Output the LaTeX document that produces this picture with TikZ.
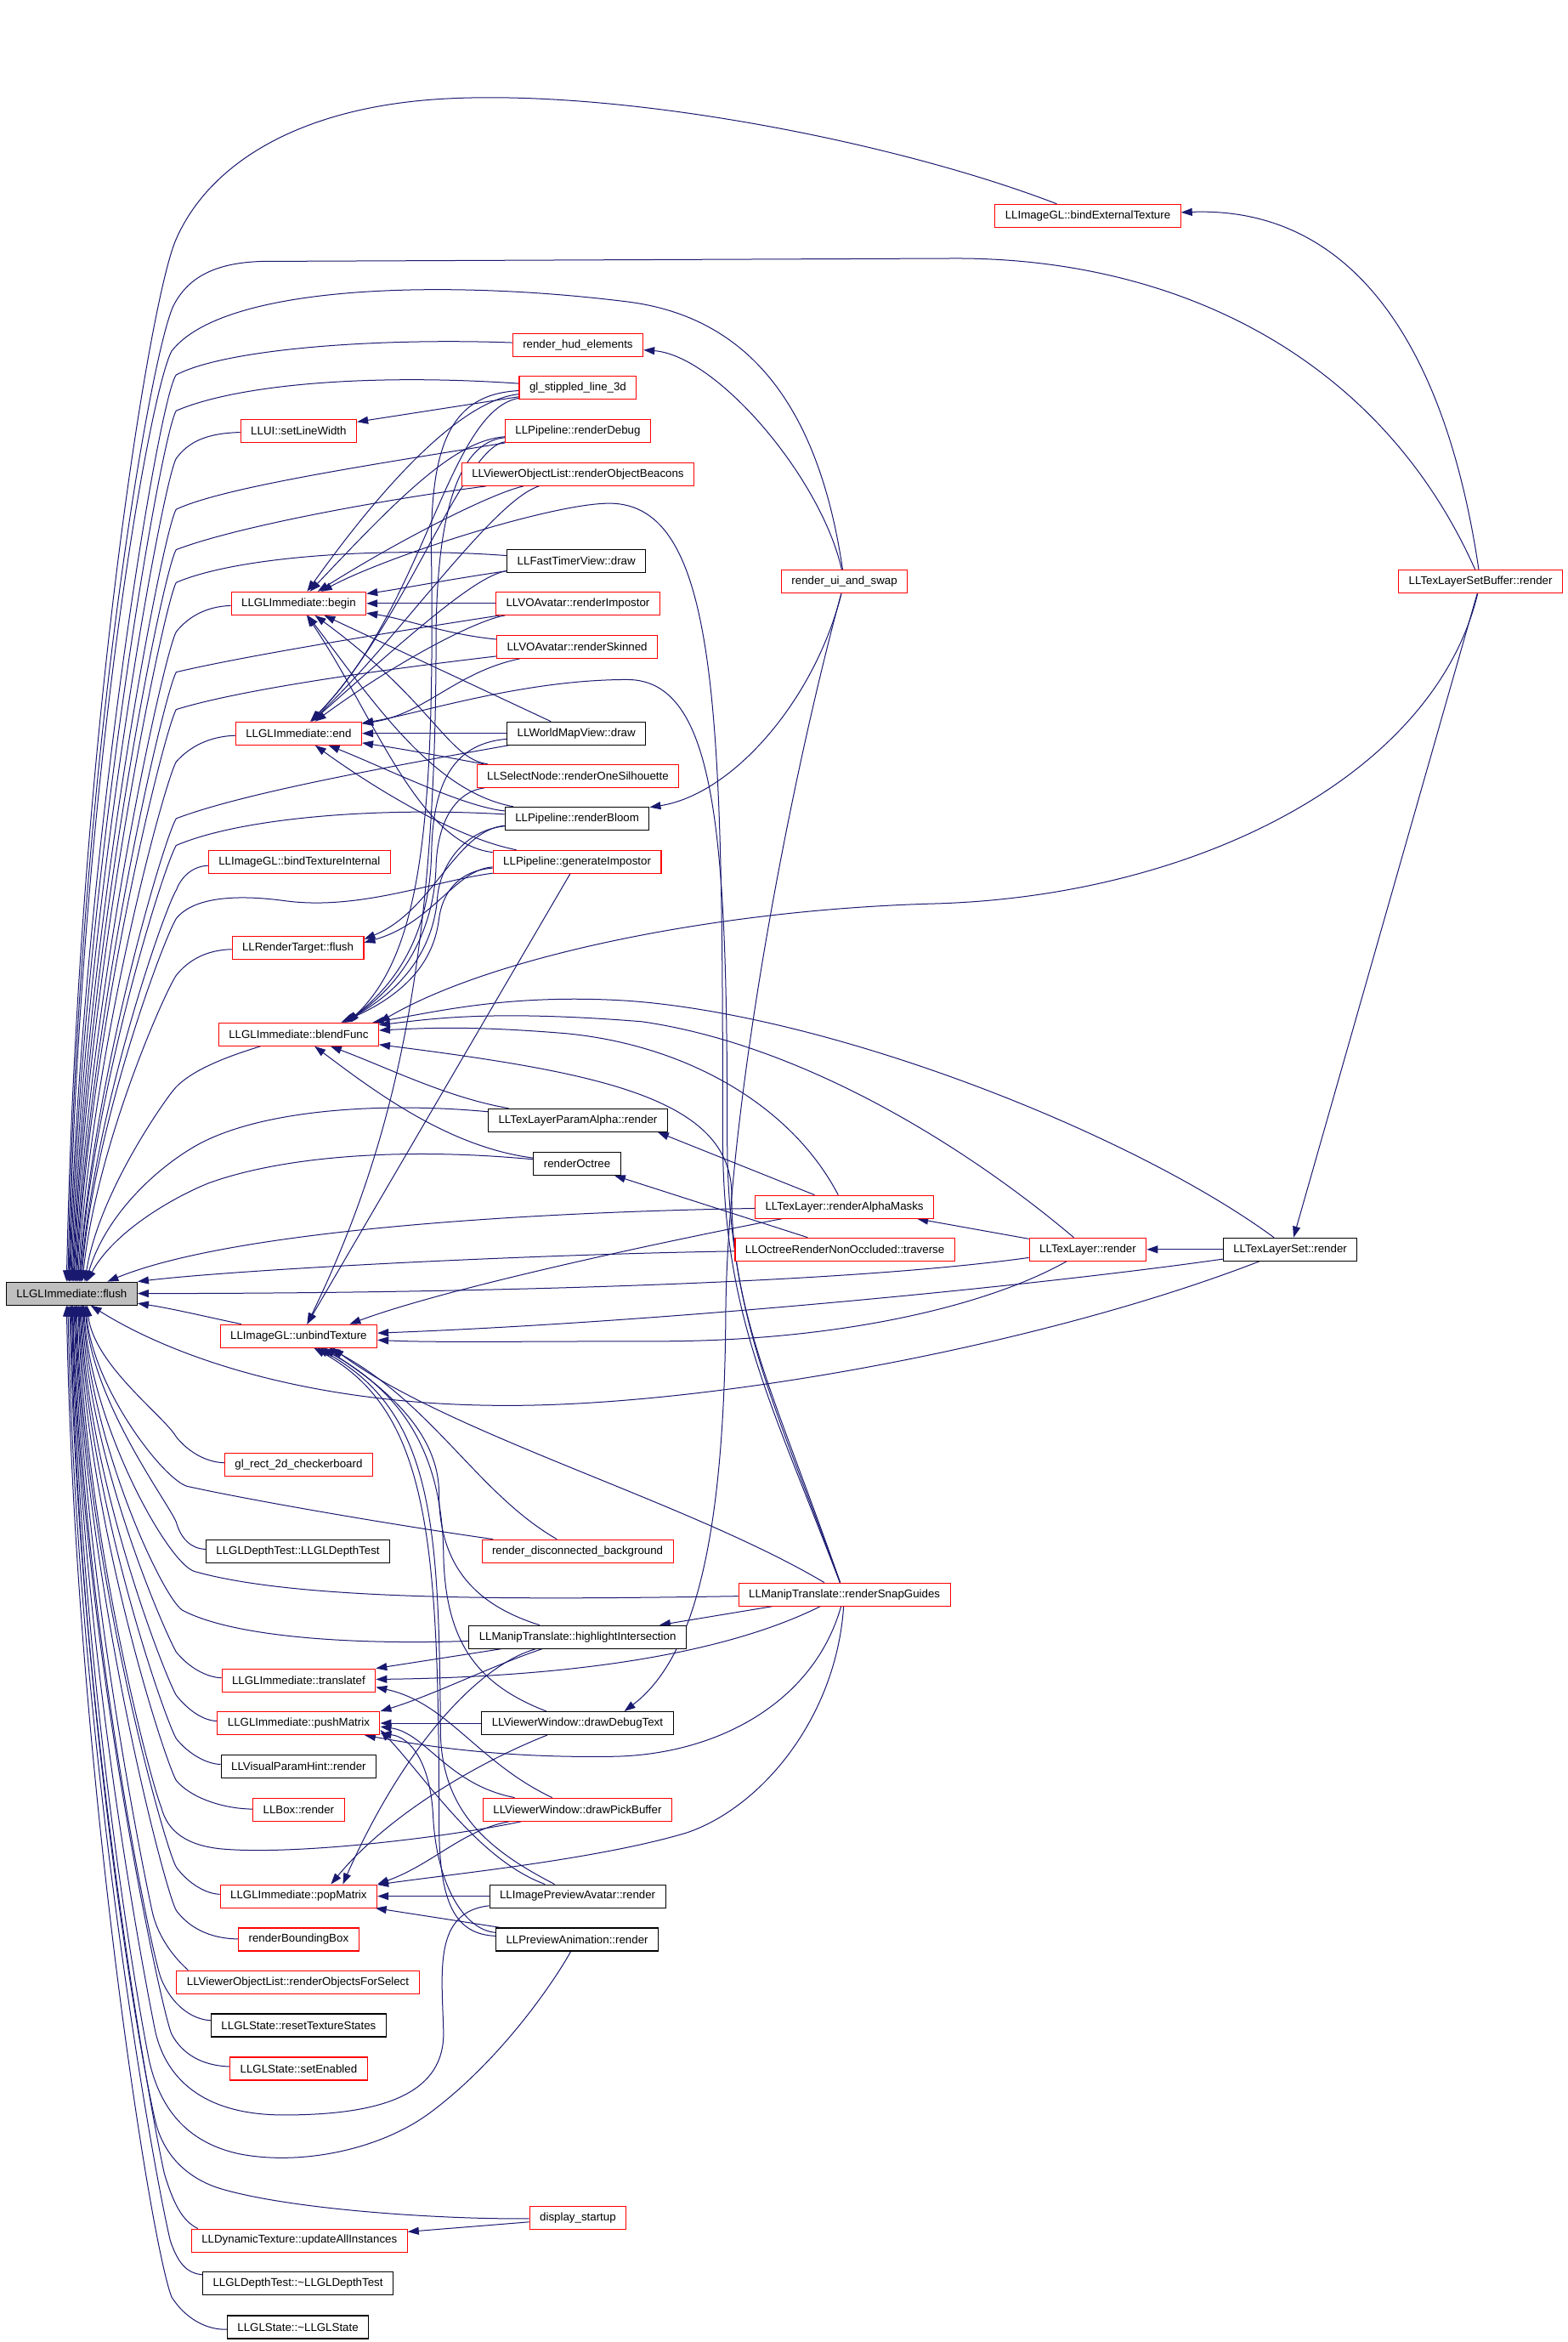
\documentclass[tikz,border=0pt]{standalone}
\usepackage{fontspec}
\setmainfont{Liberation Sans}
\usepackage{xcolor}
\usetikzlibrary{arrows.meta}
\definecolor{edgeblue}{RGB}{25,25,112}
\definecolor{nodegray}{RGB}{191,191,191}
\pgfdeclarelayer{background}
\pgfdeclarelayer{edges}
\pgfsetlayers{background,edges,main}

\begin{document}
\begin{tikzpicture}[x=0.8786pt,y=-0.8786pt,
  fn/.style={draw=black, line width=0.55pt, fill=white, font=\fontsize{6.65}{8}\selectfont, inner xsep=6pt, inner ysep=0pt, minimum height=13.5pt},
  fnred/.style={fn, draw=red},
  fnroot/.style={fn, fill=nodegray},
  call/.style={draw=edgeblue, line width=0.5pt, -{Triangle[length=6.5pt,width=4.5pt]}}]

\begin{pgfonlayer}{background}
\fill[white] (0,0) rectangle (1050,1568);
\end{pgfonlayer}
\useasboundingbox (0,0) rectangle (1050,1568);

% Text Node
\node[fnroot] (immFlush) at (48,866) {LLGLImmediate::flush};
% Text Node
\node[fnred] (setLineWidth) at (200,288.5) {LLUI::setLineWidth};
% Text Node
\node[fnred] (immBegin) at (200,404) {LLGLImmediate::begin};
% Text Node
\node[fnred] (immEnd) at (200,491) {LLGLImmediate::end};
% Text Node
\node[fnred] (bindTextureInternal) at (200.5,577) {LLImageGL::bindTextureInternal};
% Text Node
\node[fnred] (renderTargetFlush) at (199.5,634.5) {LLRenderTarget::flush};
% Text Node
\node[fnred] (blendFunc) at (200,692.5) {LLGLImmediate::blendFunc};
% Text Node
\node[fnred] (unbindTexture) at (200,894.5) {LLImageGL::unbindTexture};
% Text Node
\node[fnred] (checkerboard) at (200,980.8) {gl\_rect\_2d\_checkerboard};
% Text Node
\node[fn] (depthTest) at (199.5,1038.5) {LLGLDepthTest::LLGLDepthTest};
% Text Node
\node[fnred] (translatef) at (200,1125) {LLGLImmediate::translatef};
% Text Node
\node[fnred] (pushMatrix) at (200,1153.7) {LLGLImmediate::pushMatrix};
% Text Node
\node[fn] (visualParamHint) at (200,1182.6) {LLVisualParamHint::render};
% Text Node
\node[fnred] (boxRender) at (200,1211.5) {LLBox::render};
% Text Node
\node[fnred] (popMatrix) at (200,1269.5) {LLGLImmediate::popMatrix};
% Text Node
\node[fnred] (boundingBox) at (200,1298.5) {renderBoundingBox};
% Text Node
\node[fnred] (objectsForSelect) at (199.5,1327) {LLViewerObjectList::renderObjectsForSelect};
% Text Node
\node[fn] (resetTextureStates) at (200,1356) {LLGLState::resetTextureStates};
% Text Node
\node[fnred] (setEnabled) at (200,1385) {LLGLState::setEnabled};
% Text Node
\node[fnred] (dynamicTexture) at (200.5,1500) {LLDynamicTexture::updateAllInstances};
% Text Node
\node[fn] (depthTestDtor) at (199.5,1528.5) {LLGLDepthTest::\textasciitilde LLGLDepthTest};
% Text Node
\node[fn] (glStateDtor) at (199.5,1558) {LLGLState::\textasciitilde LLGLState};

% Text Node
\node[fnred] (hudElements) at (387,231) {render\_hud\_elements};
% Text Node
\node[fnred] (stippledLine) at (387,259.5) {gl\_stippled\_line\_3d};
% Text Node
\node[fnred] (renderDebug) at (387,288.5) {LLPipeline::renderDebug};
% Text Node
\node[fnred] (objectBeacons) at (387,317.5) {LLViewerObjectList::renderObjectBeacons};
% Text Node
\node[fn] (fastTimer) at (386,375.5) {LLFastTimerView::draw};
% Text Node
\node[fnred] (renderImpostor) at (387,404) {LLVOAvatar::renderImpostor};
% Text Node
\node[fnred] (renderSkinned) at (386.5,433) {LLVOAvatar::renderSkinned};
% Text Node
\node[fn] (worldMap) at (386,491) {LLWorldMapView::draw};
% Text Node
\node[fnred] (oneSilhouette) at (387,519.5) {LLSelectNode::renderOneSilhouette};
% Text Node
\node[fn] (renderBloom) at (386.5,548) {LLPipeline::renderBloom};
% Text Node
\node[fnred] (generateImpostor) at (386.5,577) {LLPipeline::generateImpostor};
% Text Node
\node[fn] (paramAlpha) at (387,750) {LLTexLayerParamAlpha::render};
% Text Node
\node[fn] (renderOctree) at (386.5,779) {renderOctree};
% Text Node
\node[fnred] (disconnectedBg) at (386.8,1038.5) {render\_disconnected\_background};
% Text Node
\node[fn] (highlightIntersection) at (386.8,1096) {LLManipTranslate::highlightIntersection};
% Text Node
\node[fn] (drawDebugText) at (386.7,1153.7) {LLViewerWindow::drawDebugText};
% Text Node
\node[fnred] (drawPickBuffer) at (386.7,1211.5) {LLViewerWindow::drawPickBuffer};
% Text Node
\node[fn] (previewAvatar) at (386.8,1269.5) {LLImagePreviewAvatar::render};
% Text Node
\node[fn] (previewAnimation) at (386.5,1298.5) {LLPreviewAnimation::render};
% Text Node
\node[fnred] (displayStartup) at (387,1485) {display\_startup};

% Text Node
\node[fnred] (uiAndSwap) at (565.5,389.5) {render\_ui\_and\_swap};
% Text Node
\node[fnred] (alphaMasks) at (565.5,808) {LLTexLayer::renderAlphaMasks};
% Text Node
\node[fnred] (octreeTraverse) at (565.8,836.5) {LLOctreeRenderNonOccluded::traverse};
% Text Node
\node[fnred] (snapGuides) at (565.5,1067.5) {LLManipTranslate::renderSnapGuides};
% Text Node
\node[fnred] (bindExternal) at (728.5,144.5) {LLImageGL::bindExternalTexture};
% Text Node
\node[fnred] (texLayer) at (728.5,836.5) {LLTexLayer::render};
% Text Node
\node[fnred] (layerSetBuffer) at (991.5,389.5) {LLTexLayerSetBuffer::render};
% Text Node
\node[fn] (layerSet) at (864,836.5) {LLTexLayerSet::render};

\begin{pgfonlayer}{edges}
%Curve Lines
\draw[call] (bindExternal) .. controls (600,95) and (420,60) .. (300,66) .. controls (200,71) and (140,110) .. (118,160) .. controls (100,200) and (52,500) .. ([xshift=-3pt]immFlush.north);
%Curve Lines
\draw[call] (layerSetBuffer) .. controls (925,240) and (790,173) .. (640,173) -- (175,175) .. controls (145,176) and (126,185) .. (116,205) .. controls (100,240) and (52,520) .. ([xshift=-2.2pt]immFlush.north);
%Curve Lines
\draw[call] (uiAndSwap) .. controls (548,270) and (500,212) .. (420,202) .. controls (300,187) and (150,190) .. (115,235) .. controls (100,262) and (53,530) .. ([xshift=-1.6pt]immFlush.north);
%Curve Lines
\draw[call] (hudElements) .. controls (250,226) and (150,234) .. (118,251) .. controls (106,266) and (54,585) .. ([xshift=-1.3pt]immFlush.north);
%Curve Lines
\draw[call] (stippledLine) .. controls (250,250) and (160,257) .. (118,275) .. controls (108,290) and (55,596) .. ([xshift=-0.8pt]immFlush.north);
%Curve Lines
\draw[call] (setLineWidth) .. controls (138,290) and (126,296) .. (118,307) .. controls (109,322) and (56,610) .. ([xshift=-0.2pt]immFlush.north);
%Curve Lines
\draw[call] (renderDebug) .. controls (250,311) and (150,326) .. (118,341) .. controls (109,355) and (57,625) .. ([xshift=0.4pt]immFlush.north);
%Curve Lines
\draw[call] (objectBeacons) .. controls (260,334) and (160,352) .. (118,368) .. controls (109,382) and (58,637) .. ([xshift=0.9pt]immFlush.north);
%Curve Lines
\draw[call] (fastTimer) .. controls (260,366) and (160,372) .. (118,390) .. controls (110,404) and (59,647) .. ([xshift=1.3pt]immFlush.north);
%Curve Lines
\draw[call] (immBegin) .. controls (138,406) and (126,413) .. (118,423) .. controls (110,437) and (60,662) .. ([xshift=1.9pt]immFlush.north);
%Curve Lines
\draw[call] (renderImpostor) .. controls (250,425) and (160,440) .. (118,450) .. controls (110,464) and (61,674) .. ([xshift=2.4pt]immFlush.north);
%Curve Lines
\draw[call] (renderSkinned) .. controls (250,449) and (160,462) .. (118,475) .. controls (110,489) and (61,686) .. ([xshift=2.9pt]immFlush.north);
%Curve Lines
\draw[call] (immEnd) .. controls (140,493) and (127,500) .. (118,510) .. controls (110,524) and (62,701) .. ([xshift=3.6pt]immFlush.north);
%Curve Lines
\draw[call] (worldMap) .. controls (250,515) and (160,532) .. (118,548) .. controls (110,561) and (63,718) .. ([xshift=4.3pt]immFlush.north);
%Curve Lines
\draw[call] (renderBloom) .. controls (250,540) and (160,548) .. (118,566) .. controls (110,579) and (63,727) .. ([xshift=4.6pt]immFlush.north);
%Curve Lines
\draw[call] (bindTextureInternal) .. controls (128,580) and (121,588) .. (118,596) .. controls (110,609) and (64,740) .. ([xshift=5.2pt]immFlush.north);
%Curve Lines
\draw[call] (generateImpostor) .. controls (290,590) and (240,610) .. (190,603) .. controls (160,599) and (130,600) .. (118,615) .. controls (110,628) and (64,749) .. ([xshift=5.5pt]immFlush.north);
%Curve Lines
\draw[call] (renderTargetFlush) .. controls (138,636) and (126,643) .. (118,653) .. controls (110,665) and (65,766) .. ([xshift=6.2pt]immFlush.north);
%Curve Lines
\draw[call] (blendFunc) .. controls (160,705) and (128,715) .. (116,730) .. controls (108,740) and (66,800) .. ([xshift=7.7pt]immFlush.north);
%Curve Lines
\draw[call] (paramAlpha) .. controls (260,738) and (180,742) .. (135,765) .. controls (110,778) and (72,810) .. ([xshift=8.3pt]immFlush.north);
%Curve Lines
\draw[call] (renderOctree) .. controls (270,768) and (190,774) .. (140,792) .. controls (115,802) and (76,825) .. ([xshift=8.9pt]immFlush.north);
%Curve Lines
\draw[call] (alphaMasks) .. controls (330,812) and (150,826) .. ([xshift=21pt]immFlush.north);
%Curve Lines
\draw[call] (octreeTraverse) .. controls (350,840) and (160,850) .. (immFlush.north east);
%Curve Lines
\draw[call] (texLayer) .. controls (560,860) and (300,866) .. (immFlush);
%Curve Lines
\draw[call] (unbindTexture) .. controls (140,882) and (115,876) .. (immFlush);
%Curve Lines
\draw[call] (layerSet) .. controls (700,900) and (480,941) .. (340,941) .. controls (200,941) and (110,905) .. (immFlush);
%Curve Lines
\draw[call] (checkerboard) .. controls (138,979) and (126,972) .. (118,962) .. controls (110,948) and (63,914) .. ([xshift=9pt]immFlush.south);
%Curve Lines
\draw[call] (depthTest) .. controls (128,1037) and (121,1030) .. (118,1019) .. controls (112,1005) and (62,939) .. ([xshift=7.8pt]immFlush.south);
%Curve Lines
\draw[call] (disconnectedBg) .. controls (270,1022) and (170,1005) .. (125,995) .. controls (108,989) and (62,928) .. ([xshift=8.3pt]immFlush.south);
%Curve Lines
\draw[call] (snapGuides) .. controls (350,1071) and (200,1072) .. (130,1052) .. controls (112,1046) and (61,954) .. ([xshift=7.1pt]immFlush.south);
%Curve Lines
\draw[call] (highlightIntersection) .. controls (250,1101) and (160,1098) .. (122,1078) .. controls (108,1068) and (61,966) .. ([xshift=6.6pt]immFlush.south);
%Curve Lines
\draw[call] (translatef) .. controls (138,1123) and (126,1116) .. (118,1106) .. controls (110,1092) and (60,978) .. ([xshift=6pt]immFlush.south);
%Curve Lines
\draw[call] (pushMatrix) .. controls (136,1152) and (126,1145) .. (118,1135) .. controls (110,1121) and (59,991) .. ([xshift=5.4pt]immFlush.south);
%Curve Lines
\draw[call] (visualParamHint) .. controls (138,1181) and (126,1174) .. (118,1164) .. controls (110,1150) and (59,1004) .. ([xshift=4.8pt]immFlush.south);
%Curve Lines
\draw[call] (boxRender) .. controls (150,1211) and (128,1204) .. (118,1192) .. controls (110,1178) and (58,1017) .. ([xshift=4.2pt]immFlush.south);
%Curve Lines
\draw[call] (drawPickBuffer) .. controls (300,1230) and (200,1242) .. (150,1238) .. controls (125,1236) and (112,1226) .. (108,1210) .. controls (100,1190) and (57,1025) .. ([xshift=3.8pt]immFlush.south);
%Curve Lines
\draw[call] (popMatrix) .. controls (138,1268) and (126,1261) .. (118,1250) .. controls (110,1236) and (56,1043) .. ([xshift=3pt]immFlush.south);
%Curve Lines
\draw[call] (boundingBox) .. controls (140,1298) and (126,1290) .. (118,1279) .. controls (110,1265) and (56,1056) .. ([xshift=2.4pt]immFlush.south);
%Curve Lines
\draw[call] ([xshift=7pt]objectsForSelect.north west) .. controls (118,1312) and (106,1298) .. (102,1280) .. controls (98,1262) and (56,1060) .. ([xshift=1.9pt]immFlush.south);
%Curve Lines
\draw[call] (resetTextureStates) .. controls (128,1352) and (115,1342) .. (108,1325) .. controls (101,1308) and (55,1080) .. ([xshift=1.4pt]immFlush.south);
%Curve Lines
\draw[call] (setEnabled) .. controls (135,1383) and (122,1375) .. (115,1362) .. controls (108,1347) and (54,1094) .. ([xshift=0.7pt]immFlush.south);
%Curve Lines
\draw[call] (previewAvatar) .. controls (290,1280) and (296,1320) .. (297,1360) .. controls (298,1400) and (260,1416) .. (190,1416) .. controls (140,1416) and (112,1395) .. (104,1360) .. controls (92,1300) and (54,1093) .. ([xshift=0.4pt]immFlush.south);
%Curve Lines
\draw[call] (previewAnimation) .. controls (375,1320) and (340,1375) .. (290,1413) .. controls (255,1440) and (200,1450) .. (160,1442) .. controls (128,1435) and (108,1415) .. (100,1380) .. controls (88,1320) and (53,1102) .. (immFlush.south);
%Curve Lines
\draw[call] (displayStartup) .. controls (300,1486) and (200,1480) .. (150,1466) .. controls (128,1460) and (110,1445) .. (104,1420) .. controls (90,1360) and (52,1120) .. ([xshift=-0.5pt]immFlush.south);
%Curve Lines
\draw[call] ([xshift=4pt]dynamicTexture.north west) .. controls (122,1487) and (116,1475) .. (110,1455) .. controls (98,1400) and (52,1135) .. ([xshift=-1.2pt]immFlush.south);
%Curve Lines
\draw[call] (depthTestDtor) .. controls (125,1522) and (119,1515) .. (114,1500) .. controls (100,1440) and (51,1155) .. ([xshift=-2.2pt]immFlush.south);
%Curve Lines
\draw[call] (glStateDtor) .. controls (138,1560) and (124,1552) .. (115,1538) .. controls (100,1500) and (50,1172) .. ([xshift=-3pt]immFlush.south);

%Curve Lines
\draw[call] (stippledLine) .. controls (310,268) and (260,320) .. (immBegin);
%Curve Lines
\draw[call] (renderDebug) .. controls (305,295) and (270,330) .. (immBegin);
%Curve Lines
\draw[call] (objectBeacons) .. controls (330,330) and (270,360) .. (immBegin);
%Curve Lines
\draw[call] (snapGuides) .. controls (515,935) and (484,880) .. (484,760) .. controls (484,480) and (482,337) .. (408,337) .. controls (370,337) and (260,372) .. (immBegin);
%Curve Lines
\draw[call] (fastTimer) .. controls (300,388) and (270,394) .. (immBegin);
%Straight Lines
\draw[call] (renderImpostor) -- (immBegin);
%Curve Lines
\draw[call] (renderSkinned) .. controls (300,425) and (270,414) .. (immBegin);
%Straight Lines
\draw[call] (worldMap) -- (immBegin);
%Curve Lines
\draw[call] (oneSilhouette) .. controls (300,508) and (290,470) .. (immBegin);
%Curve Lines
\draw[call] (renderBloom) .. controls (290,530) and (250,470) .. (immBegin);
%Curve Lines
\draw[call] (generateImpostor) .. controls (280,565) and (250,478) .. (immBegin);

%Curve Lines
\draw[call] (stippledLine) .. controls (300,275) and (285,405) .. (immEnd);
%Curve Lines
\draw[call] (renderDebug) .. controls (310,300) and (270,420) .. (immEnd);
%Curve Lines
\draw[call] (objectBeacons) .. controls (330,335) and (265,430) .. (immEnd);
%Curve Lines
\draw[call] (fastTimer) .. controls (320,385) and (280,420) .. (immEnd);
%Curve Lines
\draw[call] (renderImpostor) .. controls (320,415) and (270,440) .. (immEnd);
%Curve Lines
\draw[call] (renderSkinned) .. controls (305,450) and (285,478) .. (immEnd);
%Curve Lines
\draw[call] (snapGuides) .. controls (517,935) and (487,880) .. (487,760) .. controls (487,560) and (480,455) .. (420,455) .. controls (350,455) and (280,478) .. (immEnd);
%Straight Lines
\draw[call] (worldMap) -- (immEnd);
%Curve Lines
\draw[call] (oneSilhouette) .. controls (320,511) and (280,503) .. (immEnd);
%Curve Lines
\draw[call] (renderBloom) .. controls (310,540) and (260,515) .. (immEnd);
%Curve Lines
\draw[call] (generateImpostor) .. controls (300,560) and (240,520) .. (immEnd);

%Straight Lines
\draw[call] (stippledLine) -- (setLineWidth);
%Curve Lines
\draw[call] (uiAndSwap) .. controls (550,320) and (480,238) .. (hudElements);
%Curve Lines
\draw[call] (layerSetBuffer) .. controls (968,230) and (905,138) .. (bindExternal);

%Curve Lines
\draw[call] (stippledLine) .. controls (300,264) and (287,300) .. (289,380) .. controls (291,560) and (280,640) .. ([xshift=29pt]blendFunc.north);
%Curve Lines
\draw[call] (worldMap) .. controls (300,498) and (290,530) .. (289,570) .. controls (288,620) and (270,655) .. ([xshift=28pt]blendFunc.north);
%Curve Lines
\draw[call] (oneSilhouette) .. controls (305,530) and (293,550) .. (292,580) .. controls (291,620) and (272,658) .. ([xshift=27pt]blendFunc.north);
%Curve Lines
\draw[call] (renderBloom) .. controls (310,556) and (295,580) .. (293,600) .. controls (291,630) and (275,660) .. ([xshift=26pt]blendFunc.north);
%Curve Lines
\draw[call] (generateImpostor) .. controls (305,583) and (296,600) .. (294,615) .. controls (291,640) and (276,664) .. ([xshift=25pt]blendFunc.north);
%Curve Lines
\draw[call] (layerSetBuffer) .. controls (960,520) and (800,600) .. (626,605) .. controls (480,609) and (330,640) .. (blendFunc.north east);
%Curve Lines
\draw[call] (layerSet) .. controls (760,760) and (560,680) .. (420,670) .. controls (340,665) and (290,678) .. (blendFunc);
%Curve Lines
\draw[call] (texLayer) .. controls (650,770) and (540,700) .. (430,684) .. controls (330,676) and (290,682) .. (blendFunc);
%Curve Lines
\draw[call] (alphaMasks) .. controls (530,740) and (460,700) .. (380,692) .. controls (320,687) and (290,688) .. (blendFunc);
%Curve Lines
\draw[call] (snapGuides) .. controls (519,935) and (490,880) .. (490,800) .. controls (490,735) and (400,718) .. (blendFunc);
%Curve Lines
\draw[call] (paramAlpha) .. controls (300,735) and (260,715) .. (blendFunc);
%Curve Lines
\draw[call] (renderOctree) .. controls (300,768) and (250,730) .. (blendFunc);

%Curve Lines
\draw[call] (renderBloom) .. controls (305,556) and (290,610) .. ([yshift=-2pt]renderTargetFlush.north east);
%Curve Lines
\draw[call] (generateImpostor) .. controls (305,582) and (290,618) .. ([yshift=-4pt]renderTargetFlush.north east);

%Curve Lines
\draw[call] (renderDebug) .. controls (305,296) and (292,350) .. (292,430) .. controls (292,650) and (262,770) .. ([xshift=5pt]unbindTexture.north);
%Straight Lines
\draw[call] (generateImpostor) -- ([xshift=5pt]unbindTexture.north);
%Curve Lines
\draw[call] (alphaMasks) .. controls (450,830) and (300,862) .. ([xshift=30pt]unbindTexture.north);
%Curve Lines
\draw[call] (texLayer) .. controls (660,875) and (560,898) .. (440,898) .. controls (350,898) and (290,899) .. (unbindTexture);
%Curve Lines
\draw[call] (layerSet) .. controls (700,860) and (450,885) .. (unbindTexture);
%Curve Lines
\draw[call] (snapGuides) .. controls (460,1005) and (300,960) .. ([xshift=20pt]unbindTexture.south);
%Curve Lines
\draw[call] (disconnectedBg) .. controls (320,1000) and (290,940) .. ([xshift=18pt]unbindTexture.south);
%Curve Lines
\draw[call] (highlightIntersection) .. controls (320,1075) and (294,1050) .. (294,1000) .. controls (294,960) and (260,930) .. ([xshift=15pt]unbindTexture.south);
%Curve Lines
\draw[call] (drawDebugText) .. controls (320,1128) and (298,1100) .. (297,1040) .. controls (296,980) and (275,935) .. ([xshift=13pt]unbindTexture.south);
%Curve Lines
\draw[call] (previewAvatar) .. controls (330,1240) and (296,1215) .. (295,1160) .. controls (294,1020) and (290,945) .. ([xshift=11pt]unbindTexture.south);
%Curve Lines
\draw[call] (previewAnimation) .. controls (305,1295) and (294,1275) .. (294,1220) .. controls (294,1030) and (287,945) .. ([xshift=9pt]unbindTexture.south);

%Straight Lines
\draw[call] (alphaMasks) -- ([xshift=-6pt]paramAlpha.south east);
%Straight Lines
\draw[call] (octreeTraverse) -- (renderOctree);
%Straight Lines
\draw[call] (texLayer) -- ([xshift=-10pt]alphaMasks.south east);
%Straight Lines
\draw[call] (layerSet) -- (texLayer);
%Straight Lines
\draw[call] (layerSetBuffer) -- (layerSet);

%Curve Lines
\draw[call] (uiAndSwap) .. controls (545,470) and (490,532) .. (renderBloom);
%Curve Lines
\draw[call] (uiAndSwap) .. controls (530,520) and (487,740) .. (486,880) .. controls (485,1030) and (465,1110) .. ([xshift=-29pt]drawDebugText.north east);

%Curve Lines
\draw[call] (snapGuides) .. controls (510,1095) and (430,1122) .. (translatef);
%Curve Lines
\draw[call] (snapGuides) .. controls (545,1140) and (480,1175) .. (410,1176) .. controls (340,1177) and (290,1170) .. (pushMatrix);
%Curve Lines
\draw[call] (snapGuides) .. controls (560,1150) and (510,1210) .. (460,1227) .. controls (400,1245) and (300,1255) .. (popMatrix);
%Straight Lines
\draw[call] (snapGuides) -- ([xshift=-16pt]highlightIntersection.north east);
%Straight Lines
\draw[call] (highlightIntersection) -- (translatef.north east);
%Curve Lines
\draw[call] (highlightIntersection) .. controls (330,1115) and (290,1135) .. (pushMatrix.north east);
%Curve Lines
\draw[call] (highlightIntersection) .. controls (320,1115) and (270,1170) .. ([xshift=26pt]popMatrix.north);
%Straight Lines
\draw[call] (drawDebugText) -- (pushMatrix);
%Curve Lines
\draw[call] (drawDebugText) .. controls (320,1180) and (260,1215) .. ([xshift=19pt]popMatrix.north);
%Curve Lines
\draw[call] (drawPickBuffer) .. controls (320,1180) and (300,1140) .. ([yshift=-4pt]translatef.east);
%Curve Lines
\draw[call] (drawPickBuffer) .. controls (300,1195) and (285,1160) .. ([yshift=-2pt]pushMatrix.east);
%Curve Lines
\draw[call] (drawPickBuffer) .. controls (310,1225) and (290,1248) .. (popMatrix.north east);
%Straight Lines
\draw[call] (previewAvatar) -- (popMatrix);
%Curve Lines
\draw[call] (previewAvatar) .. controls (320,1245) and (285,1190) .. ([yshift=-4pt]pushMatrix.east);
%Straight Lines
\draw[call] (previewAnimation) -- (popMatrix);
%Curve Lines
\draw[call] (previewAnimation) .. controls (310,1292) and (292,1260) .. (290,1215) .. controls (288,1180) and (275,1163) .. ([yshift=-6pt]pushMatrix.east);
%Straight Lines
\draw[call] (displayStartup) -- (dynamicTexture);
\end{pgfonlayer}
\end{tikzpicture}
\end{document}
